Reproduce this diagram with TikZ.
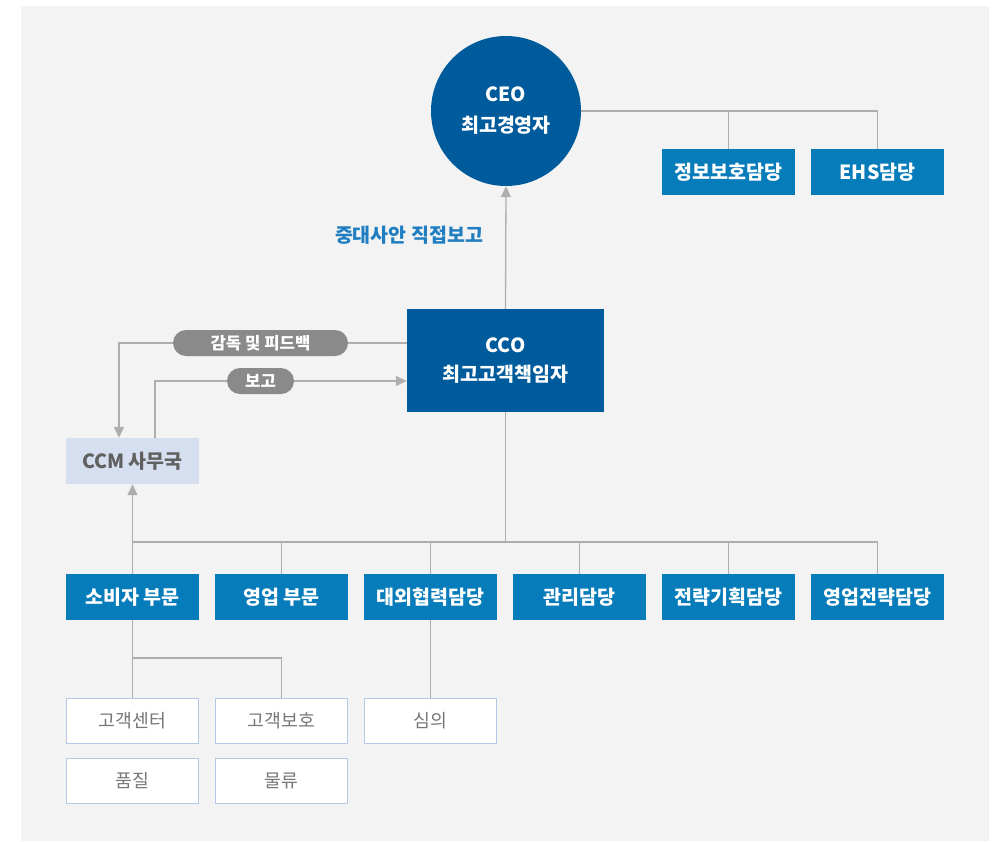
\documentclass[tikz,border=0pt]{standalone}
\usepackage{fontspec}
\setmainfont{Noto Sans CJK KR}
\usetikzlibrary{arrows.meta}
\definecolor{bggray}{HTML}{F3F3F3}
\definecolor{ceoblue}{HTML}{005B9C}
\definecolor{deptblue}{HTML}{077CBA}
\definecolor{ccmfill}{HTML}{D5DFF0}
\definecolor{ccmtext}{HTML}{606060}
\definecolor{subborder}{HTML}{B4C9E6}
\definecolor{subtext}{HTML}{777777}
\definecolor{pillgray}{HTML}{8A8A8A}
\definecolor{labelblue}{HTML}{1F7EC1}
\definecolor{linegray}{HTML}{AEAEAE}
\begin{document}
\begin{tikzpicture}[x=1pt,y=-1pt,
  line/.style={draw=linegray, line width=1.3pt},
  arr/.style={line, -{Triangle[length=11pt,width=10pt]}},
  dept/.style={fill=deptblue, text=white, minimum width=133pt, minimum height=46pt, inner sep=0pt, font=\fontsize{19.5}{22}\selectfont\bfseries},
  subbox/.style={fill=white, draw=subborder, line width=1pt, text=subtext, minimum width=132pt, minimum height=45pt, inner sep=0pt, font=\fontsize{18.3}{21}\selectfont},
  pill/.style={fill=pillgray, text=white, rounded corners=13pt, minimum height=26pt, inner sep=0pt, font=\fontsize{16.7}{19}\selectfont\bfseries}]
\useasboundingbox (0,0) rectangle (992,841);
\fill[white] (0,0) rectangle (992,841);
\fill[bggray] (21,6) rectangle (989,841);

% top
\node[circle, fill=ceoblue, minimum size=150pt, inner sep=0pt, text=white, align=center, font=\fontsize{19.5}{31}\selectfont\bfseries] (ceo) at (506,111) {CEO\\최고경영자};
\node[dept] (info) at (728.5,172) {정보보호담당};
\node[dept] (ehs) at (877.5,172) {EHS담당};

\node[fill=ceoblue, minimum width=197pt, minimum height=103pt, inner sep=0pt, text=white, align=center, font=\fontsize{19.5}{29}\selectfont\bfseries] (cco) at (505.5,360.5) {CCO\\최고고객책임자};
\node[text=labelblue, font=\fontsize{19.5}{22}\selectfont\bfseries, inner sep=0pt] (lbl) at (409,235) {중대사안 직접보고};

\node[fill=ccmfill, text=ccmtext, minimum width=133pt, minimum height=46pt, inner sep=0pt, font=\fontsize{19.5}{22}\selectfont\bfseries] (ccm) at (132.5,461) {CCM 사무국};

\node[pill, minimum width=175pt] (p1) at (260.5,343) {감독 및 피드백};
\node[pill, minimum width=67pt] (p2) at (260.5,381) {보고};

% departments
\node[dept] (d1) at (132.5,597) {소비자 부문};
\node[dept] (d2) at (281.5,597) {영업 부문};
\node[dept] (d3) at (430.5,597) {대외협력담당};
\node[dept] (d4) at (579.5,597) {관리담당};
\node[dept] (d5) at (728.5,597) {전략기획담당};
\node[dept] (d6) at (877.5,597) {영업전략담당};

% sub units
\node[subbox] (s1) at (132.5,720.5) {고객센터};
\node[subbox] (s2) at (281.5,720.5) {고객보호};
\node[subbox] (s3) at (430.5,720.5) {심의};
\node[subbox] (s4) at (132.5,781) {품질};
\node[subbox] (s5) at (281.5,781) {물류};

\coordinate (bus) at (132.5,542);
\coordinate (j) at (132.5,658);

% connectors
\draw[line] (ceo.east) -| (ehs.north);
\draw[line] (info.north) -- (info.north |- ceo.east);
\draw[arr] (cco.north) -- (ceo.south);

\draw[line] (cco.west |- p1.east) -- (p1.east);
\draw[arr] (p1.west) -| ([xshift=-13.5pt]ccm.north);
\draw[line] ([xshift=22.5pt]ccm.north) |- (p2.west);
\draw[arr] (p2.east) -- (cco.west |- p2.east);

\draw[line] (cco.south) -- (cco.south |- bus);
\draw[line] (bus) -- (d6.north |- bus);
\foreach \d in {d1,d2,d3,d4,d5,d6} \draw[line] (\d.north) -- (\d.north |- bus);
\draw[arr] (bus) -- (ccm.south);

\draw[line] (d1.south) -- (s1.north);
\draw[line] (j) -| (s2.north);
\draw[line] (d3.south) -- (s3.north);
\end{tikzpicture}
\end{document}
